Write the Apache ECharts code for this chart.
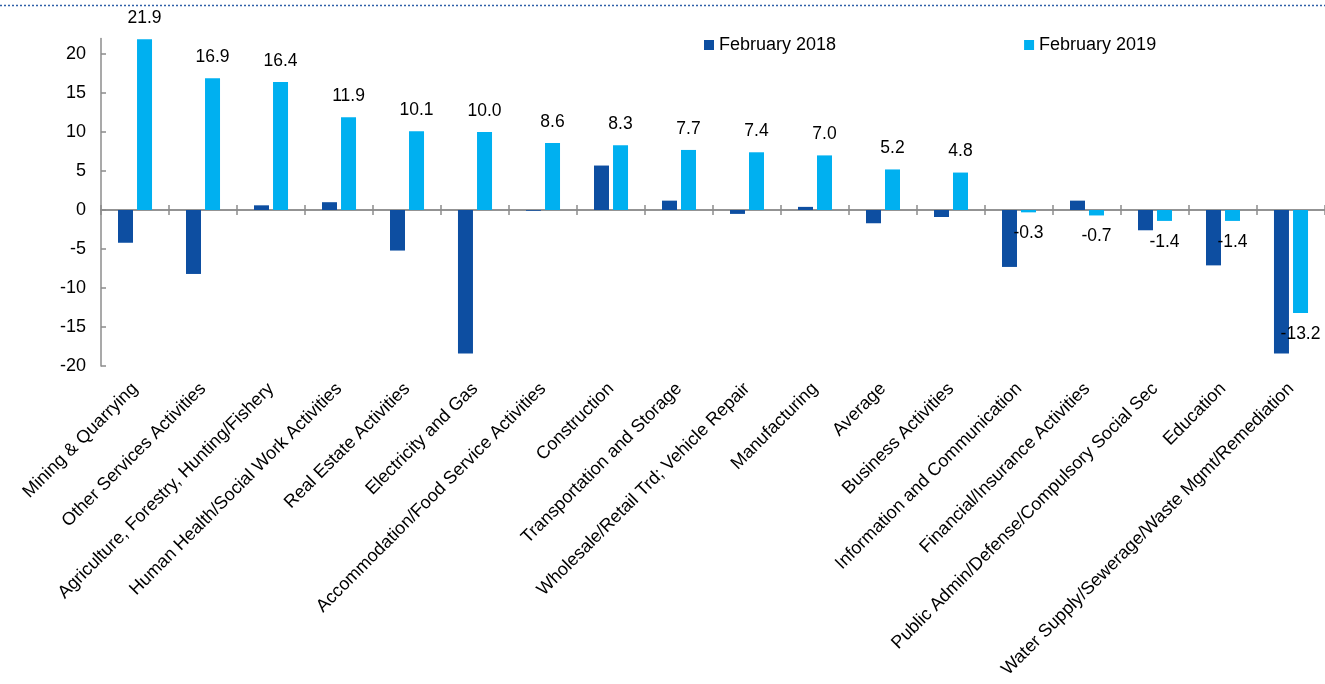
<!DOCTYPE html>
<html>
<head>
<meta charset="utf-8">
<script src="https://cdn.jsdelivr.net/npm/echarts@6/dist/echarts.min.js"></script>
<style>
  html, body { margin: 0; padding: 0; background: #ffffff; }
  #chart { width: 1325px; height: 684px; }
</style>
</head>
<body>
<div id="chart"></div>
<script>
const categories = [
  'Mining & Quarrying',
  'Other Services Activities',
  'Agriculture, Forestry, Hunting/Fishery',
  'Human Health/Social Work Activities',
  'Real Estate Activities',
  'Electricity and Gas',
  'Accommodation/Food Service Activities',
  'Construction',
  'Transportation and Storage',
  'Wholesale/Retail Trd; Vehicle Repair',
  'Manufacturing',
  'Average',
  'Business Activities',
  'Information and Communication',
  'Financial/Insurance Activities',
  'Public Admin/Defense/Compulsory Social Sec',
  'Education',
  'Water Supply/Sewerage/Waste Mgmt/Remediation'
];
const seriesNames = ['February 2018', 'February 2019'];
const feb2018 = [-4.2, -8.2, 0.6, 1.0, -5.2, -18.4, -0.1, 5.7, 1.2, -0.5, 0.4, -1.7, -0.9, -7.3, 1.2, -2.6, -7.1, -18.4];
const feb2019 = [21.9, 16.9, 16.4, 11.9, 10.1, 10.0, 8.6, 8.3, 7.7, 7.4, 7.0, 5.2, 4.8, -0.3, -0.7, -1.4, -1.4, -13.2];
const yTickLabels = [-20, -15, -10, -5, 0, 5, 10, 15, 20];

const FONT = '"Liberation Sans", Arial, sans-serif';
const AXIS_COLOR = '#8c8c8c';
const DARK = '#0d4ea1';
const LIGHT = '#00b0f0';

const chart = echarts.init(document.getElementById('chart'), null, { renderer: 'canvas' });

const option = {
  animation: false,
  backgroundColor: '#ffffff',
  textStyle: { fontFamily: FONT },
  legend: {
    left: 704,
    top: 36,
    padding: 0,
    itemWidth: 10,
    itemHeight: 10,
    itemGap: 188,
    icon: 'rect',
    textStyle: { fontFamily: FONT, fontSize: 18, color: '#000' },
    data: seriesNames
  },
  grid: { left: 101, right: -5, top: 38.4, bottom: 318, containLabel: false },
  xAxis: [
    {
      type: 'category',
      data: categories,
      position: 'bottom',
      axisLine: { show: false, onZero: false },
      axisTick: { show: false },
      axisLabel: {
        interval: 0,
        rotate: 45,
        margin: 20,
        fontFamily: FONT,
        fontSize: 18,
        color: '#000'
      }
    },
    {
      type: 'category',
      data: categories,
      position: 'bottom',
      axisLine: { show: true, onZero: true, onZeroAxisIndex: 0, lineStyle: { color: AXIS_COLOR, width: 1.5 } },
      axisTick: { show: true, interval: 0, length: 5, lineStyle: { color: AXIS_COLOR, width: 1.5 } },
      axisLabel: { show: false }
    },
    {
      type: 'category',
      data: categories,
      position: 'top',
      axisLine: { show: true, onZero: true, onZeroAxisIndex: 0, lineStyle: { color: AXIS_COLOR, width: 1.5 } },
      axisTick: { show: true, interval: 0, length: 5, lineStyle: { color: AXIS_COLOR, width: 1.5 } },
      axisLabel: { show: false }
    }
  ],
  yAxis: {
    type: 'value',
    min: -20,
    max: 22,
    splitLine: { show: false },
    axisLine: { show: true, lineStyle: { color: AXIS_COLOR, width: 1.5 } },
    axisTick: { show: true, inside: true, length: 5, customValues: yTickLabels, lineStyle: { color: AXIS_COLOR, width: 1.5 } },
    axisLabel: {
      customValues: yTickLabels,
      margin: 15,
      fontFamily: FONT,
      fontSize: 18,
      color: '#000'
    }
  },
  series: [
    {
      name: seriesNames[0],
      type: 'bar',
      xAxisIndex: 0,
      data: feb2018,
      barWidth: 15,
      barGap: '27%',
      itemStyle: { color: DARK },
      label: { show: false }
    },
    {
      name: seriesNames[1],
      type: 'bar',
      xAxisIndex: 0,
      data: feb2019.map(v => ({
        value: v,
        label: { position: v < 0 ? 'bottom' : 'top' }
      })),
      barWidth: 15,
      barGap: '27%',
      itemStyle: { color: LIGHT },
      label: {
        show: true,
        distance: 12,
        fontFamily: FONT,
        fontSize: 17.5,
        color: '#000',
        formatter: p => Number(p.value).toFixed(1)
      }
    }
  ],
  graphic: [
    {
      type: 'line',
      shape: { x1: 0, y1: 5.5, x2: 1325, y2: 5.5 },
      style: { stroke: '#2f5fa8', lineWidth: 1.5, lineDash: [2, 2] },
      silent: true
    }
  ]
};

chart.setOption(option);
</script>
</body>
</html>
